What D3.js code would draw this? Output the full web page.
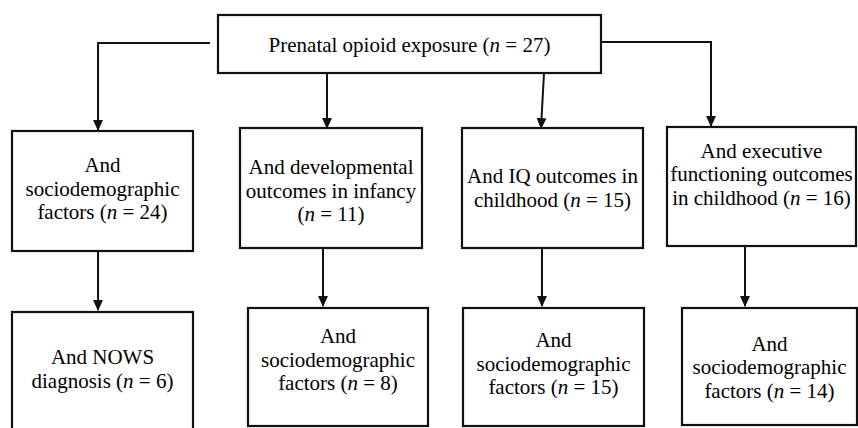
<!DOCTYPE html>
<html>
<head>
<meta charset="utf-8">
<script src="https://cdn.jsdelivr.net/npm/d3@7"></script>
</head>
<body style="margin:0">
<script>
// chart data
let topLabel = ["Prenatal opioid exposure"];
let topN = 27;

let level1Labels = [
    ["And", "sociodemographic", "factors"],
    ["And developmental", "outcomes in infancy", ""],
    ["And IQ outcomes in", "childhood"],
    ["And executive", "functioning outcomes", "in childhood"]
];
let level1N = [24, 11, 15, 16];

let level2Labels = [
    ["And NOWS", "diagnosis"],
    ["And", "sociodemographic", "factors"],
    ["And", "sociodemographic", "factors"],
    ["And", "sociodemographic", "factors"]
];
let level2N = [6, 8, 15, 14];

let width = 858;
let height = 428;
let lineHeight = 23.5;
let fontSize = 21;

// box geometry (x, y, w, h) and small text nudges
let layout = {
    top: {x: 218, y: 15, w: 383, h: 58, dy: 1},
    level1: [
        {x: 12, y: 131, w: 181, h: 120, dy: -2},
        {x: 240, y: 128, w: 182, h: 120, dy: 3},
        {x: 462, y: 128, w: 181, h: 120, dy: 0},
        {x: 667, y: 127, w: 189, h: 119, dy: -12}
    ],
    level2: [
        {x: 12, y: 312, w: 181, h: 122, dy: -4},
        {x: 248, y: 308, w: 180, h: 118, dy: -7},
        {x: 463, y: 308, w: 181, h: 118, dy: -3},
        {x: 682, y: 308, w: 175, h: 117, dy: 1}
    ],
    // x of the down arrows into level 1 / level 2
    arrow1X: [98, 327, 541, 711],
    arrow1StartX: [98, 327, 544, 711],
    arrow2X: [98, 323, 542, 745],
    sideY: 43
};

let svg = d3.select("body").append("svg")
    .attr("width", width)
    .attr("height", height)
    .style("display", "block")
    .style("font-family", "'Liberation Serif', 'Times New Roman', serif", "important");

svg.append("defs").append("marker")
    .attr("id", "arrow")
    .attr("markerUnits", "userSpaceOnUse")
    .attr("viewBox", "0 0 10 10")
    .attr("refX", 9)
    .attr("refY", 5)
    .attr("markerWidth", 11)
    .attr("markerHeight", 11)
    .attr("orient", "auto")
    .append("path")
    .attr("d", "M0,0.5 L10,5 L0,9.5 Z")
    .attr("fill", "#111");

function drawBox(box, lines, n) {
    svg.append("rect")
        .attr("x", box.x)
        .attr("y", box.y)
        .attr("width", box.w)
        .attr("height", box.h)
        .attr("fill", "none")
        .attr("stroke", "#111")
        .attr("stroke-width", 2.2);

    let cx = box.x + box.w / 2;
    let cy = box.y + box.h / 2 + box.dy;
    let first = cy - (lines.length - 1) / 2 * lineHeight + fontSize * 0.33;

    lines.forEach((line, i) => {
        let t = svg.append("text")
            .attr("x", cx)
            .attr("y", first + i * lineHeight)
            .attr("text-anchor", "middle")
            .attr("font-size", fontSize)
            .style("font-family", "'Liberation Serif', 'Times New Roman', serif", "important");
        if (i < lines.length - 1) {
            t.text(line);
        } else {
            t.append("tspan").text((line ? line + " " : "") + "(");
            t.append("tspan").attr("font-style", "italic").text("n");
            t.append("tspan").text("\u00a0=\u00a0" + n + ")");
        }
    });
}

function drawArrow(points) {
    svg.append("path")
        .attr("d", d3.line()(points))
        .attr("fill", "none")
        .attr("stroke", "#111")
        .attr("stroke-width", 2)
        .attr("marker-end", "url(#arrow)");
}

drawBox(layout.top, topLabel, topN);
level1Labels.forEach((lines, i) => drawBox(layout.level1[i], lines, level1N[i]));
level2Labels.forEach((lines, i) => drawBox(layout.level2[i], lines, level2N[i]));

// connectors from the top box
let topBox = layout.top;
let l1 = layout.level1;
drawArrow([[topBox.x - 8, layout.sideY], [layout.arrow1X[0], layout.sideY], [layout.arrow1X[0], l1[0].y - 1]]);
drawArrow([[layout.arrow1StartX[1], topBox.y + topBox.h], [layout.arrow1X[1], l1[1].y]]);
drawArrow([[layout.arrow1StartX[2], topBox.y + topBox.h], [layout.arrow1X[2], l1[2].y]]);
drawArrow([[topBox.x + topBox.w, layout.sideY - 1], [layout.arrow1X[3], layout.sideY - 1], [layout.arrow1X[3], l1[3].y - 1]]);

// level 1 -> level 2
layout.level2.forEach((b, i) => {
    let a = l1[i];
    drawArrow([[layout.arrow2X[i], a.y + a.h], [layout.arrow2X[i], b.y - 2]]);
});
</script>
</body>
</html>
